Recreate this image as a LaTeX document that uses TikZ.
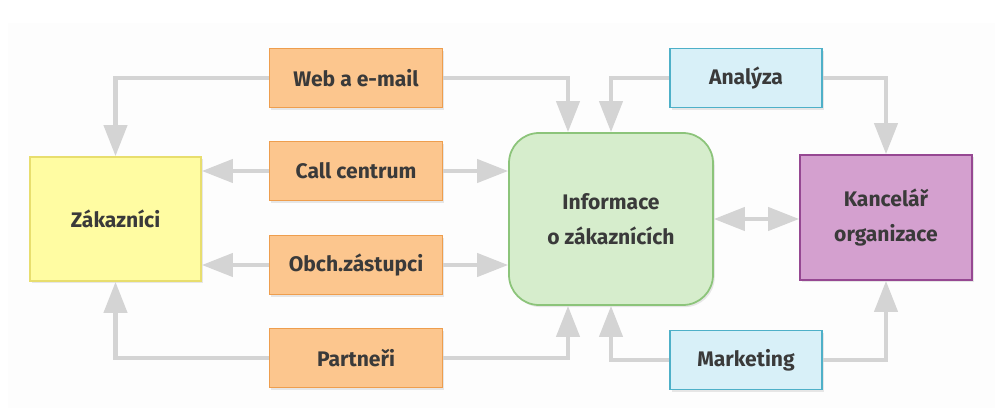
\documentclass[tikz,border=0pt]{standalone}
\usepackage{fontspec}
\setmainfont{Fira Sans}
\usepackage{xcolor}
\usetikzlibrary{arrows.meta,shadows}

\definecolor{sipka}{RGB}{212,212,212}
\definecolor{oranzova}{RGB}{252,198,142}
\definecolor{oranzovaokraj}{RGB}{238,158,78}
\definecolor{zluta}{RGB}{255,252,162}
\definecolor{zlutaokraj}{RGB}{232,222,110}
\definecolor{zelena}{RGB}{214,237,204}
\definecolor{zelenaokraj}{RGB}{140,196,122}
\definecolor{fialova}{RGB}{212,160,207}
\definecolor{fialovaokraj}{RGB}{150,72,146}
\definecolor{modra}{RGB}{216,240,248}
\definecolor{modraokraj}{RGB}{78,176,200}
\definecolor{text}{RGB}{58,58,58}

\begin{document}
\begin{tikzpicture}[
  krabice/.style={draw, line width=1pt, minimum width=3.46cm, minimum height=1.18cm,
    font=\bfseries\large, text=text, align=center,
    drop shadow={opacity=0.18, shadow xshift=1pt, shadow yshift=-1.2pt}},
  kanal/.style={krabice, fill=oranzova, draw=oranzovaokraj},
  sluzba/.style={krabice, fill=modra, draw=modraokraj, minimum width=3.04cm},
  velka/.style={krabice, minimum width=3.44cm, minimum height=2.5cm},
  sipka/.style={draw=sipka, line width=2.4pt,
    -{Triangle[width=0.46cm,length=0.62cm]}},
  dvojsipka/.style={sipka, {Triangle[width=0.46cm,length=0.62cm]}-{Triangle[width=0.46cm,length=0.62cm]}}
]
% pozadi
\useasboundingbox (0,0) rectangle (20,8.36);
\fill[black!0.8] (0.16,0.2) rectangle (19.9,7.9);

% leva strana
\node[velka, fill=zluta, draw=zlutaokraj, minimum width=3.42cm, minimum height=2.48cm] (zak) at (2.31,3.98) {Zákazníci};

% kanaly
\node[kanal] (web) at (7.12,6.80) {Web a e-mail};
\node[kanal] (call) at (7.12,4.94) {Call centrum};
\node[kanal] (obch) at (7.12,3.06) {Obch.zástupci};
\node[kanal] (partneri) at (7.12,1.20) {Partneři};

% stred
\node[velka, fill=zelena, draw=zelenaokraj, rounded corners=0.6cm, minimum width=4.08cm, minimum height=3.44cm] (info) at (12.22,3.98) {Informace\\[6pt]o zákaznících};

% prava strana
\node[sluzba] (analyza) at (14.92,6.80) {Analýza};
\node[sluzba] (marketing) at (14.92,1.16) {Marketing};
\node[velka, fill=fialova, draw=fialovaokraj] (kanc) at (17.72,4.01) {Kancelář\\[6pt]organizace};

% kanaly doleva
\draw[sipka] (web) -| (zak);
\draw[sipka] (call.west) -- (call.west -| zak.east);
\draw[sipka] (obch.west) -- (obch.west -| zak.east);
\draw[sipka] (partneri) -| (zak);

% kanaly doprava
\draw[sipka] (web) -| ([xshift=-0.86cm]info.north);
\draw[sipka] (call.east) -- (call.east -| info.west);
\draw[sipka] (obch.east) -- (obch.east -| info.west);
\draw[sipka] (partneri) -| ([xshift=-0.86cm]info.south);

% analyza a marketing
\draw[sipka] (analyza) -| (info);
\draw[sipka] (analyza) -| (kanc);
\draw[sipka] (marketing) -| (info);
\draw[sipka] (marketing) -| (kanc);

% informace - kancelar
\draw[dvojsipka] (info.east) -- (info.east -| kanc.west);
\end{tikzpicture}
\end{document}
